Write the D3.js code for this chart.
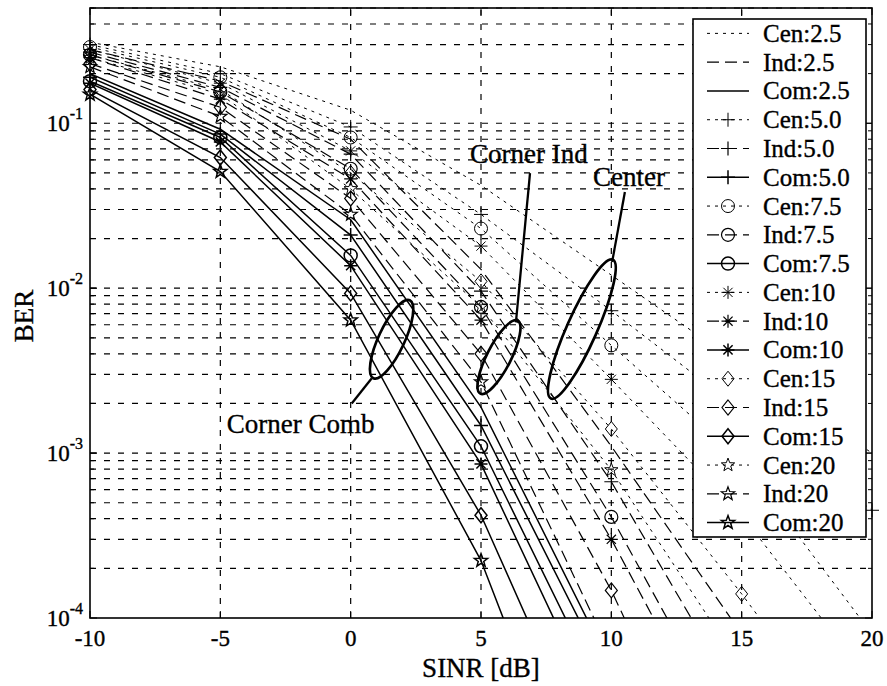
<!DOCTYPE html>
<html>
<head>
<meta charset="utf-8">
<script src="https://cdn.jsdelivr.net/npm/d3@7"></script>
<style>
  body { margin: 0; background: #fff; }
  svg text { font-family: "Liberation Serif", "Times New Roman", serif; fill: #000; stroke: #000; stroke-width: 0.35; }
</style>
</head>
<body>
<svg id="chart" width="887" height="686"></svg>
<script>
// ---- data ----
const sinr = [-10, -5, 0, 5, 10, 15, 20];
const xTicks = [-10, -5, 0, 5, 10, 15, 20];
const yDecades = [1e-4, 1e-3, 1e-2, 1e-1];
const yExponents = ["-4", "-3", "-2", "-1"];
const schemes = ["Cen", "Ind", "Com"];
const params = ["2.5", "5.0", "7.5", "10", "15", "20"];

// Center
const cen25 = [0.31, 0.22, 0.12, 0.042, 0.012, 0.0034, 0.0010];
const cen50 = [0.30, 0.20, 0.095, 0.028, 0.0073, 0.0018, 0.00045];
const cen75 = [0.29, 0.19, 0.082, 0.023, 0.0045, 0.00090, 0.00008];
const cen10 = [0.28, 0.175, 0.068, 0.018, 0.0028, 0.00042, 0.00004];
const cen15 = [0.26, 0.16, 0.050, 0.011, 0.0014, 0.00014, 0.000012];
const cen20 = [0.25, 0.15, 0.040, 0.0077, 0.00079, 0.00005, 0.000003];
// Corner, independent
const ind25 = [0.28, 0.18, 0.080, 0.013, 0.0011, 0.00008, 0.000005];
const ind50 = [0.27, 0.165, 0.065, 0.0096, 0.00067, 0.00003, null];
const ind75 = [0.26, 0.155, 0.053, 0.0077, 0.00041, 0.000015, null];
const ind10 = [0.25, 0.14, 0.046, 0.0064, 0.00030, 0.00001, null];
const ind15 = [0.23, 0.125, 0.035, 0.0040, 0.000147, 0.000003, null];
const ind20 = [0.22, 0.11, 0.028, 0.0027, 0.00006, null, null];
// Corner, combined
const com25 = [0.20, 0.092, 0.026, 0.0019, 0.00005, null, null];
const com50 = [0.19, 0.086, 0.021, 0.00147, 0.00004, null, null];
const com75 = [0.18, 0.082, 0.0158, 0.0011, 0.000027, null, null];
const com10 = [0.175, 0.077, 0.0137, 0.00086, 0.000018, null, null];
const com15 = [0.16, 0.062, 0.0093, 0.00042, 0.000007, null, null];
const com20 = [0.15, 0.051, 0.0064, 0.000223, 0.000002, null, null];

const table = {
  Cen: [cen25, cen50, cen75, cen10, cen15, cen20],
  Ind: [ind25, ind50, ind75, ind10, ind15, ind20],
  Com: [com25, com50, com75, com10, com15, com20]
};

// annotations (data coordinates)
const ellipses = [
  { cx: 1.57, cy: 4.9e-3, rx: 43, ry: 13, angle: -65 },
  { cx: 5.69, cy: 3.82e-3, rx: 41, ry: 12, angle: -63 },
  { cx: 8.87, cy: 5.65e-3, rx: 76, ry: 15, angle: -66 }
];
const leaders = [
  { x1: 0.81, y1: 2.84e-3, x2: 0.04, y2: 2.0e-3 },
  { x1: 6.34, y1: 6.2e-3, x2: 6.88, y2: 0.0499 },
  { x1: 10.03, y1: 0.0144, x2: 10.52, y2: 0.0383 }
];
const notes = [
  { text: "Corner Comb", x: -4.75, y: 1.32e-3 },
  { text: "Corner Ind", x: 4.58, y: 0.0574 },
  { text: "Center", x: 9.3, y: 0.0417 }
];

// ---- layout ----
const svg = d3.select("#chart");
const pL = 90, pR = 872, pT = 8, pB = 618;
const x = d3.scaleLinear().domain([-10, 20]).range([pL, pR]);
const y = d3.scaleLog().domain([1e-4, 0.5]).range([pB, pT]);

const styles = {
  Cen: { dash: "3,5", width: 1.0 },
  Ind: { dash: "12,6", width: 1.2 },
  Com: { dash: null, width: 1.5 }
};
const markerKinds = ["none", "plus", "circle", "asterisk", "diamond", "star"];

function markerPath(kind) {
  const p = d3.path();
  if (kind === "plus") {
    p.moveTo(-7, 0); p.lineTo(7, 0); p.moveTo(0, -7); p.lineTo(0, 7);
  } else if (kind === "asterisk") {
    p.moveTo(-6.5, 0); p.lineTo(6.5, 0); p.moveTo(0, -6.5); p.lineTo(0, 6.5);
    p.moveTo(-4.6, -4.6); p.lineTo(4.6, 4.6); p.moveTo(-4.6, 4.6); p.lineTo(4.6, -4.6);
  } else if (kind === "circle") {
    p.moveTo(6.5, 0); p.arc(0, 0, 6.5, 0, 2 * Math.PI);
  } else if (kind === "diamond") {
    p.moveTo(0, -7.5); p.lineTo(6, 0); p.lineTo(0, 7.5); p.lineTo(-6, 0); p.closePath();
  } else if (kind === "star") {
    for (let i = 0; i < 10; i++) {
      const r = i % 2 === 0 ? 7 : 2.9;
      const a = -Math.PI / 2 + i * Math.PI / 5;
      const px = r * Math.cos(a), py = r * Math.sin(a);
      if (i === 0) p.moveTo(px, py); else p.lineTo(px, py);
    }
    p.closePath();
  }
  return p.toString();
}

// series in legend order
const series = [];
params.forEach((pm, pi) => {
  schemes.forEach(sc => {
    series.push({
      name: sc + ":" + pm,
      scheme: sc,
      marker: markerKinds[pi],
      values: table[sc][pi].map((v, i) => ({ x: sinr[i], v }))
    });
  });
});

svg.append("rect").attr("width", 887).attr("height", 686).attr("fill", "#fff");

svg.append("defs").append("clipPath").attr("id", "plot")
  .append("rect").attr("x", pL).attr("y", pT)
  .attr("width", pR - pL).attr("height", pB - pT);

// grid
const grid = svg.append("g").attr("stroke", "#000").attr("stroke-width", 1.2)
  .attr("stroke-dasharray", "6,8").attr("fill", "none");
xTicks.slice(1, -1).forEach(t => {
  grid.append("line").attr("x1", x(t)).attr("x2", x(t)).attr("y1", pB).attr("y2", pT);
});
const yGrid = [];
yDecades.forEach(d => { for (let k = 1; k <= 9; k++) { const v = d * k; if (v <= 0.5 && v > 1e-4) yGrid.push(v); } });
yGrid.forEach(v => {
  grid.append("line").attr("x1", pL).attr("x2", pR).attr("y1", y(v)).attr("y2", y(v));
});

// curves
const line = d3.line().defined(d => d.v != null).x(d => x(d.x)).y(d => y(d.v));
const curves = svg.append("g").attr("clip-path", "url(#plot)");
series.forEach(s => {
  const st = styles[s.scheme];
  curves.append("path").datum(s.values)
    .attr("d", line).attr("fill", "none").attr("stroke", "#000")
    .attr("stroke-width", st.width)
    .attr("stroke-dasharray", st.dash);
});

// markers
const marks = svg.append("g");
series.forEach(s => {
  if (s.marker === "none") return;
  const st = styles[s.scheme];
  s.values.filter(d => d.v != null && d.v >= 0.99e-4 && d.v <= 0.5).forEach(d => {
    marks.append("path").attr("d", markerPath(s.marker))
      .attr("transform", `translate(${x(d.x)},${y(d.v)})`)
      .attr("fill", "none").attr("stroke", "#000").attr("stroke-width", st.width);
  });
});

// axes frame and ticks
const axes = svg.append("g").attr("stroke", "#000").attr("fill", "none");
axes.append("rect").attr("x", pL).attr("y", pT).attr("width", pR - pL)
  .attr("height", pB - pT).attr("stroke-width", 1.6);
xTicks.forEach(t => {
  axes.append("line").attr("x1", x(t)).attr("x2", x(t)).attr("y1", pB).attr("y2", pB - 7);
  axes.append("line").attr("x1", x(t)).attr("x2", x(t)).attr("y1", pT).attr("y2", pT + 7);
});
yGrid.concat(yDecades).forEach(v => {
  const major = yDecades.includes(v);
  const len = major ? 7 : 4;
  axes.append("line").attr("x1", pL).attr("x2", pL + len).attr("y1", y(v)).attr("y2", y(v));
  axes.append("line").attr("x1", pR).attr("x2", pR - len).attr("y1", y(v)).attr("y2", y(v));
});

// tick labels
const xLab = svg.append("g").attr("font-size", 23).attr("text-anchor", "middle");
xTicks.forEach(t => {
  xLab.append("text").attr("x", x(t)).attr("y", 646).text(t);
});
const yLab = svg.append("g").attr("font-size", 23).attr("text-anchor", "end");
yDecades.forEach((d, i) => {
  const t = yLab.append("text").attr("x", 83).attr("y", y(d) + 8);
  t.append("tspan").text("10");
  t.append("tspan").attr("font-size", 16).attr("dy", -12).text(yExponents[i]);
});

// axis titles
svg.append("text").attr("x", (pL + pR) / 2).attr("y", 677)
  .attr("text-anchor", "middle").attr("font-size", 27).text("SINR [dB]");
svg.append("text").attr("transform", `translate(33,${(pT + pB) / 2 + 3}) rotate(-90)`)
  .attr("text-anchor", "middle").attr("font-size", 27).text("BER");

// annotations
const ann = svg.append("g").attr("stroke", "#000").attr("fill", "none");
ellipses.forEach(e => {
  ann.append("ellipse").attr("rx", e.rx).attr("ry", e.ry)
    .attr("transform", `translate(${x(e.cx)},${y(e.cy)}) rotate(${e.angle})`)
    .attr("stroke-width", 2.7);
});
leaders.forEach(l => {
  ann.append("line").attr("x1", x(l.x1)).attr("y1", y(l.y1))
    .attr("x2", x(l.x2)).attr("y2", y(l.y2)).attr("stroke-width", 2.3);
});
notes.forEach(n => {
  svg.append("text").attr("x", x(n.x)).attr("y", y(n.y)).attr("font-size", 27).text(n.text);
});

// legend
const lg = svg.append("g");
const lgX = 693, lgY = 19, lgW = 173, lgH = 518, rowH = lgH / series.length;
lg.append("rect").attr("x", lgX).attr("y", lgY).attr("width", lgW).attr("height", lgH)
  .attr("fill", "#fff").attr("stroke", "#000").attr("stroke-width", 1.6);
series.forEach((s, i) => {
  const cy = lgY + rowH * (i + 0.5);
  const st = styles[s.scheme];
  lg.append("line").attr("x1", 707).attr("x2", 749).attr("y1", cy).attr("y2", cy)
    .attr("stroke", "#000").attr("stroke-width", st.width).attr("stroke-dasharray", st.dash);
  if (s.marker !== "none") {
    lg.append("path").attr("d", markerPath(s.marker))
      .attr("transform", `translate(728,${cy})`)
      .attr("fill", "none").attr("stroke", "#000").attr("stroke-width", st.width);
  }
  lg.append("text").attr("x", 763).attr("y", cy + 8.5).attr("font-size", 25).text(s.name);
});
</script>
</body>
</html>
